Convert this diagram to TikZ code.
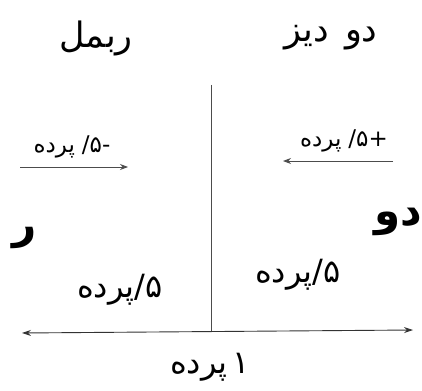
\documentclass[tikz,border=0pt]{standalone}
\usepackage{fontspec}
\newfontfamily\arabicfont[Script=Arabic]{DejaVu Sans}
\TeXXeTstate=1
\usetikzlibrary{arrows.meta}
\newcommand{\hb}[1]{\hbox{#1}}
\begin{document}
\begin{tikzpicture}[x=1pt,y=-1pt,
  title/.style={font=\arabicfont\fontsize{35}{40}\selectfont, inner sep=0pt},
  small/.style={font=\arabicfont\fontsize{23}{27}\selectfont, inner sep=0pt},
  mid/.style={font=\arabicfont\fontsize{32}{36}\selectfont, inner sep=0pt},
  note/.style={font=\arabicfont\bfseries\fontsize{42}{48}\selectfont, inner sep=0pt},
  thinarrow/.style={draw=black!70, line width=0.9pt, -{Stealth[length=8pt,width=6pt]}},
  axis/.style={draw=black!80, line width=0.9pt, {Stealth[length=9pt,width=6pt]}-{Stealth[length=9pt,width=6pt]}},
  divider/.style={draw=black!70, line width=0.7pt}]
\useasboundingbox (0,0) rectangle (422,390);
% titles
\node[title] (tl) at (96,38) {\hb{ربمل}};
\node[title] (tr) at (331,38) {\hb{دیز}\hspace{16pt}\hb{دو}};
% small labels with arrows
\node[small] (ll) at (72,147) {\hb{پرده}\hspace{7pt}\hb{/}\hb{۵}\hb{-}};
\node[small] (rl) at (344,141) {\hb{پرده}\hspace{7pt}\hb{/}\hb{۵}\hb{+}};
\coordinate (la1) at (20,167);
\coordinate (la2) at (128,167);
\coordinate (ra1) at (393,161);
\coordinate (ra2) at (283,161);
\draw[thinarrow] (la1) -- (la2);
\draw[thinarrow] (ra1) -- (ra2);
% side notes
\node[note] (re) at (25,238) {\hb{ر}};
\node[note] (do) at (398,222) {\hb{دو}};
% divider and axis
\coordinate (vt) at (211,85);
\coordinate (vb) at (211,332);
\draw[divider] (vt) -- (vb);
\coordinate (hl) at (22,333);
\coordinate (hr) at (413,330);
\draw[axis] (hl) -- (hr);
% half-tone labels
\node[mid] (bl) at (120,290) {\hb{پرده}\hb{/}\hb{۵}};
\node[mid] (br) at (298,275) {\hb{پرده}\hb{/}\hb{۵}};
\node[mid] (bt) at (210,367) {\hb{پرده}\hspace{5pt}\hb{۱}};
\end{tikzpicture}
\end{document}
